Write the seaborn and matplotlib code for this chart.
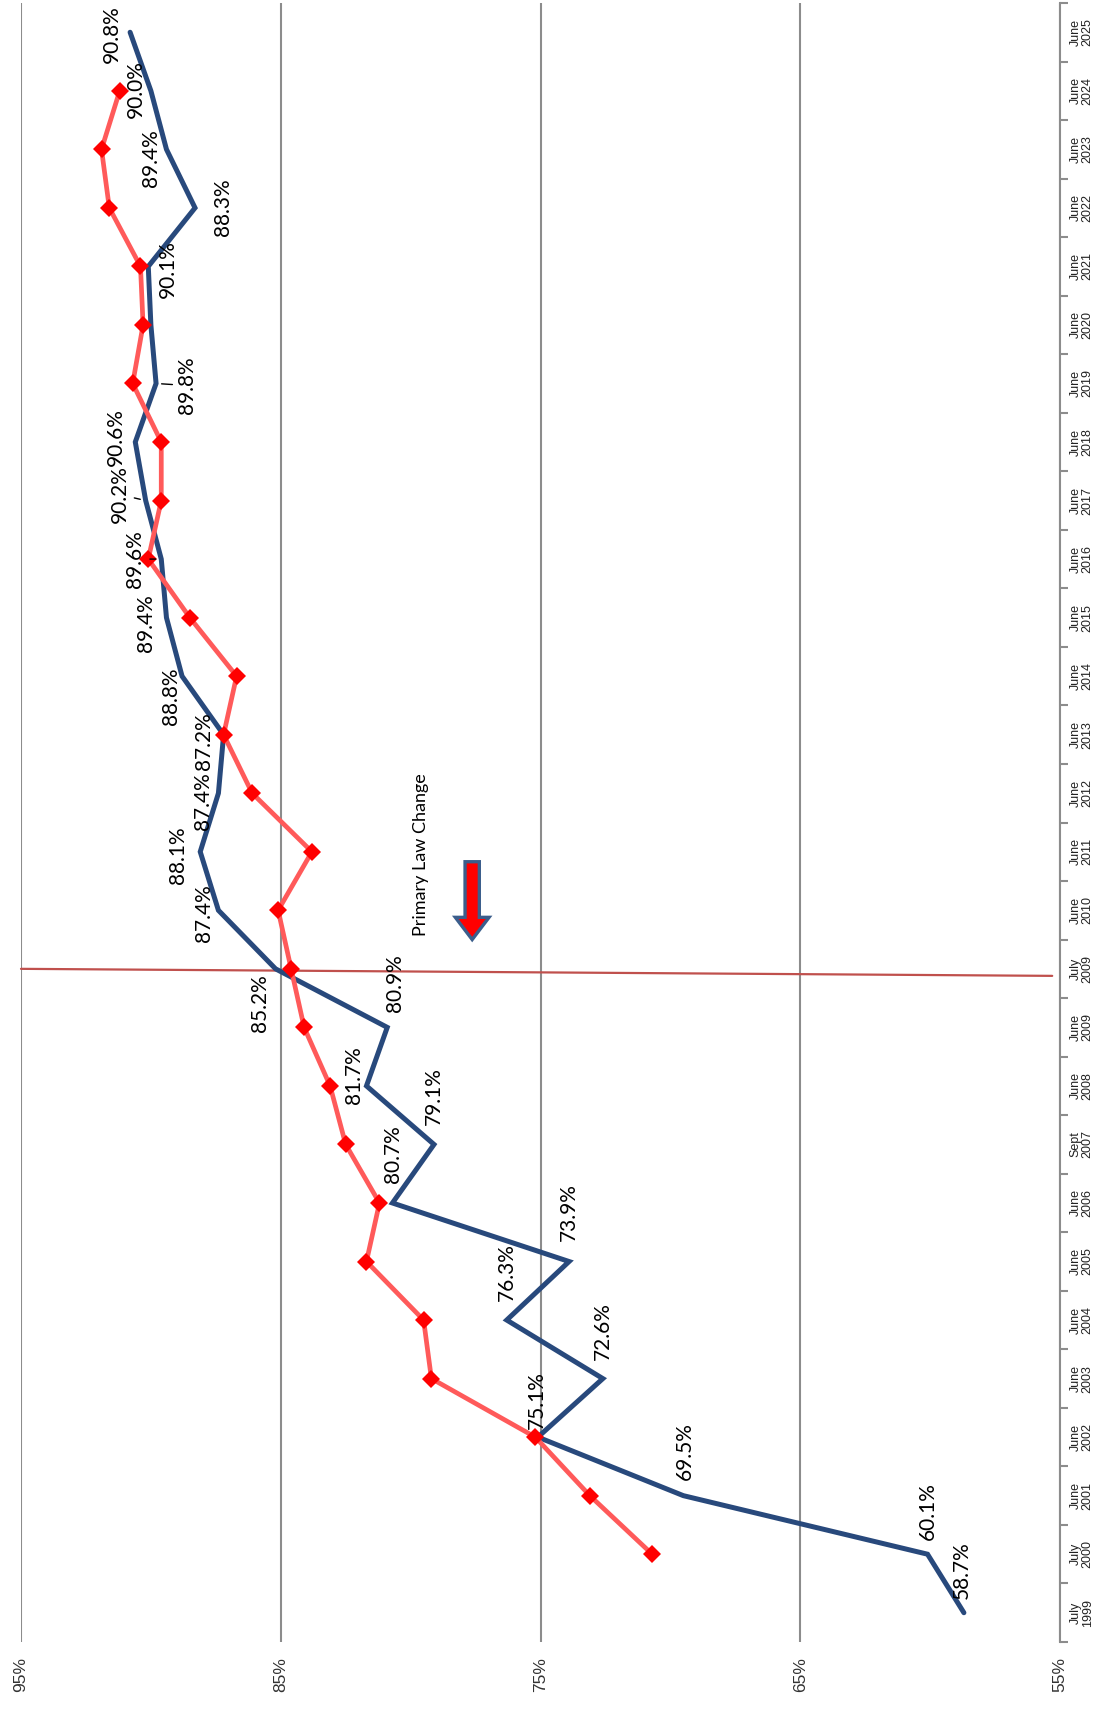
import numpy as np
import pandas as pd
import matplotlib
matplotlib.use("Agg")
import matplotlib.pyplot as plt
from matplotlib.patches import FancyArrow
import seaborn as sns

# ---- data -------------------------------------------------------------
periods = ["July\n1999", "July\n2000", "June\n2001", "June\n2002", "June\n2003",
           "June\n2004", "June\n2005", "June\n2006", "Sept\n2007", "June\n2008",
           "June\n2009", "July\n2009", "June\n2010", "June\n2011", "June\n2012",
           "June\n2013", "June\n2014", "June\n2015", "June\n2016", "June\n2017",
           "June\n2018", "June\n2019", "June\n2020", "June\n2021", "June\n2022",
           "June\n2023", "June\n2024", "June\n2025"]

state_rate = [58.7, 60.1, 69.5, 75.1, 72.6, 76.3, 73.9, 80.7, 79.1, 81.7,
              80.9, 85.2, 87.4, 88.1, 87.4, 87.2, 88.8, 89.4, 89.6, 90.2,
              90.6, 89.8, 90.0, 90.1, 88.3, 89.4, 90.0, 90.8]

national_rate = [np.nan, 70.7, 73.1, 75.2, 79.2, 79.5, 81.7, 81.2, 82.5, 83.1,
                 84.1, 84.6, 85.1, 83.8, 86.1, 87.2, 86.7, 88.5, 90.1, 89.6,
                 89.6, 90.7, 90.3, 90.4, 91.6, 91.9, 91.2, np.nan]

# which state values carry a printed label
state_labelled = [True] * 22 + [False] + [True] * 5
# labels joined to their point by a short leader line
state_leader = {18, 19, 21}

value_ticks = [95, 85, 75, 65, 55]
law_change_period = "July\n2009"

# label placement (pixel offsets from each point)
label_offsets = [(-2, 43), (0, 43), (2, 45), (-1, 37), (0, 48), (0, 48), (0, 49),
                 (1, 49), (0, 48), (-12, 11), (8, 44), (-16, -34), (-14, -3),
                 (-22, -3), (-15, -8), (-20, -6), (-11, -20), (-20, -6),
                 (-26, 0), (-26, 6), (-19, 5), (31, -2), (0, 0), (20, -3),
                 (28, 1), (-15, -9), (-15, 2), (-18, -2)]

# ---- figure -----------------------------------------------------------
sns.set_style("white")
plt.rcParams["font.family"] = ["Lato", "DejaVu Sans"]

W, H = 1104, 1711
fig = plt.figure(figsize=(W / 100, H / 100), dpi=100)
ax = fig.add_axes([21 / W, 1 - 1642 / H, (1060 - 21) / W, (1642 - 3) / H])

pos = np.arange(len(periods))
df = pd.DataFrame({"pos": pos, "state": state_rate, "national": national_rate})

blue = "#28497C"
sns.lineplot(data=df, x="state", y="pos", orient="y", sort=True, ax=ax,
             color=blue, linewidth=3.6, solid_joinstyle="miter", zorder=3)
sns.lineplot(data=df.dropna(subset=["national"]), x="national", y="pos",
             orient="y", sort=True, ax=ax, color="#FF5A5A", linewidth=3.4,
             marker="D", markersize=9, markerfacecolor="#FF0000",
             markeredgecolor="#FF0000", markeredgewidth=0, zorder=4)

ax.set_xlim(95, 55)
ax.set_ylim(-0.5, len(periods) - 0.5)

# value axis (drawn along the bottom)
ax.set_xticks(value_ticks)
ax.set_xticklabels([f"{v}%" for v in value_ticks], rotation=90,
                   fontsize=12.5, color="#333333", family="Liberation Sans")
ax.tick_params(axis="x", length=0, pad=11)
ax.xaxis.grid(True, color="#8C8C8C", linewidth=1.5)
ax.yaxis.grid(False)

# category axis (drawn along the right side)
ax.yaxis.tick_right()
ax.set_yticks(pos)
ax.set_yticklabels(periods, rotation=90, va="center", ha="left",
                   multialignment="center", fontsize=9, color="#222222",
                   family="Liberation Sans", linespacing=1.0)
ax.set_yticks(np.arange(-0.5, len(periods)), minor=True)
ax.tick_params(axis="y", which="major", length=0, pad=7)
ax.tick_params(axis="y", which="minor", length=6, width=1.5, color="#8C8C8C",
               direction="out", right=True, left=False)
ax.set_xlabel("")
ax.set_ylabel("")
for side in ["top", "left", "bottom"]:
    ax.spines[side].set_visible(False)
ax.spines["right"].set_color("#8C8C8C")
ax.spines["right"].set_linewidth(1.5)
if ax.get_legend():
    ax.get_legend().remove()

# data labels for the state series
for i, (v, show) in enumerate(zip(state_rate, state_labelled)):
    if not show:
        continue
    dx, dy = label_offsets[i]
    arrow = None
    if i in state_leader:
        arrow = dict(arrowstyle="-", color="black", lw=1.0,
                     shrinkA=1, shrinkB=4)
    ax.annotate(f"{v:.1f}%", xy=(v, pos[i]), xytext=(dx, dy),
                textcoords="offset pixels", rotation=90, ha="center",
                va="center", fontsize=15, color="black", zorder=5,
                arrowprops=arrow)

# law change marker
yl = periods.index(law_change_period)
ax.plot([95, 55.3], [yl, yl - 0.12], color="#C0504D", linewidth=1.6,
        zorder=2, clip_on=False)
ax.text(77.6 + 2.0, yl + 1.95, "Primary Law Change", rotation=90,
        ha="center", va="center", fontsize=13, color="black")
ax.add_patch(FancyArrow(77.63, yl + 1.83, 0, -1.33, width=0.55,
                        head_width=1.3, head_length=0.38,
                        length_includes_head=True, facecolor="#FF0000",
                        edgecolor="#3B5E8C", linewidth=2.4, zorder=5))

fig.savefig("out.png", dpi=100)
